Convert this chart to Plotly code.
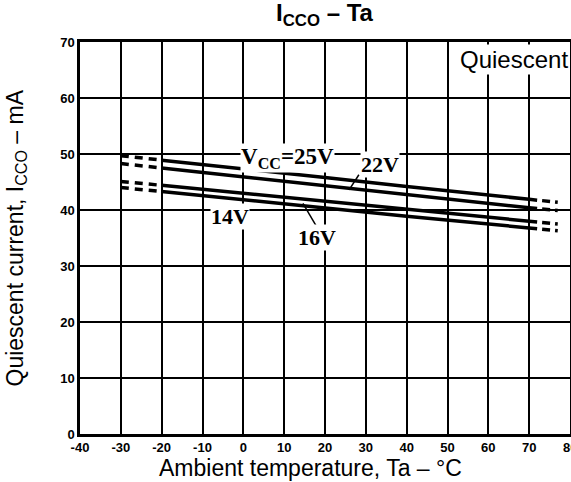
import plotly.graph_objects as go

# ---- data ----
temps_solid = [-20, 0, 20, 40, 70]
icc_25v = [48.9, 47.4, 45.8, 44.2, 41.9]
icc_22v = [47.5, 45.9, 44.3, 42.7, 40.4]
icc_16v = [44.4, 43.0, 41.6, 40.1, 38.0]
icc_14v = [43.3, 41.8, 40.4, 38.9, 36.8]

temps_left = [-30, -20]
left_25v = [49.7, 48.9]
left_22v = [48.3, 47.5]
left_16v = [45.1, 44.4]
left_14v = [44.0, 43.3]

temps_right = [70, 77]
right_25v = [41.9, 41.4]
right_22v = [40.4, 39.9]
right_16v = [38.0, 37.5]
right_14v = [36.8, 36.3]

x_ticks = [-40, -30, -20, -10, 0, 10, 20, 30, 40, 50, 60, 70, 80]
x_ticktext = ["-40", "-30", "-20", "-10", "0", "10", "20", "30", "40", "50", "60", "70", "80"]
y_ticks = [0, 10, 20, 30, 40, 50, 60, 70]
y_ticktext = ["0", "10", "20", "30", "40", "50", "60", "70"]

SANS = "Liberation Sans, Arial, sans-serif"
SERIF = "Liberation Serif, Times New Roman, serif"
TICKFONT = dict(family=SANS, size=13, color="black", weight="bold")

fig = go.Figure()
for vals in [icc_25v, icc_22v, icc_16v, icc_14v]:
    fig.add_trace(go.Scatter(x=temps_solid, y=vals, mode="lines",
                             line=dict(color="black", width=3.5), showlegend=False))
for vals in [left_25v, left_22v, left_16v, left_14v]:
    fig.add_trace(go.Scatter(x=temps_left, y=vals, mode="lines",
                             line=dict(color="black", width=3.5, dash="8px,6px"), showlegend=False))
for vals in [right_25v, right_22v, right_16v, right_14v]:
    fig.add_trace(go.Scatter(x=temps_right, y=vals, mode="lines",
                             line=dict(color="black", width=3.5, dash="8px,5px"), showlegend=False))

ann_font = dict(family=SERIF, size=22, color="black", weight="bold")
annotations = [
    dict(x=10.7, y=49.2, text="V<sub>CC</sub>=25V", showarrow=False,
         font=dict(family=SERIF, size=23, color="black", weight="bold"),
         bgcolor="white", xref="x", yref="y", borderpad=0),
    dict(x=33.5, y=48.2, text="22V", showarrow=False, font=ann_font,
         bgcolor="white", xref="x", yref="y", borderpad=0),
    dict(x=-3.3, y=38.9, text="14V", showarrow=False, font=ann_font,
         bgcolor="white", xref="x", yref="y", borderpad=0),
    dict(x=18.0, y=35.1, text="16V", showarrow=False, font=ann_font,
         bgcolor="white", xref="x", yref="y", borderpad=0),
    dict(x=0.999, y=0.995, xref="paper", yref="paper", xanchor="right", yanchor="top",
         text="Quiescent", showarrow=False, bgcolor="white", borderpad=1,
         font=dict(family=SANS, size=24, color="black")),
    dict(x=0.5, y=1.0, xref="paper", yref="paper", yanchor="bottom", yshift=10,
         text="<b>I<sub>CCO</sub> – Ta</b>", showarrow=False,
         font=dict(family=SANS, size=24, color="black")),
    dict(x=0.47, y=0, xref="paper", yref="paper", yanchor="top", yshift=-19,
         text="Ambient temperature, Ta – °C", showarrow=False,
         font=dict(family=SANS, size=23, color="black")),
    dict(x=0, y=0.5, xref="paper", yref="paper", xanchor="right", xshift=-48,
         text="Quiescent current, I<sub>CCO</sub> – mA", showarrow=False, textangle=-90,
         font=dict(family=SANS, size=23, color="black")),
    dict(x=80, y=0, xref="x", yref="y", yanchor="top", yshift=-4,
         text="80", showarrow=False, font=TICKFONT),
]

shapes = [
    dict(type="line", xref="x", yref="y", x0=28.3, y0=46.3, x1=25.9, y1=43.6,
         line=dict(color="black", width=1.5)),
    dict(type="line", xref="x", yref="y", x0=14.6, y0=41.2, x1=17.8, y1=37.2,
         line=dict(color="black", width=1.5)),
]

fig.update_layout(
    width=571, height=482,
    margin=dict(l=80, r=1, t=42, b=48, autoexpand=False),
    paper_bgcolor="white", plot_bgcolor="white",
    annotations=annotations, shapes=shapes,
    xaxis=dict(range=[-40, 80], tickvals=x_ticks, ticktext=x_ticktext,
               showgrid=True, gridcolor="black", gridwidth=1.5, automargin=False,
               showline=True, linecolor="black", linewidth=2.5, mirror=True,
               zeroline=False, ticks="", ticklen=0, tickfont=TICKFONT),
    yaxis=dict(range=[0, 70], tickvals=y_ticks, ticktext=y_ticktext,
               showgrid=True, gridcolor="black", gridwidth=1.5, automargin=False,
               showline=True, linecolor="black", linewidth=2.5, mirror=True,
               zeroline=False, ticks="", ticklen=0, tickfont=TICKFONT),
)

fig.write_html("out.html", config={"displayModeBar": False},
               post_script="document.body.style.margin='0';document.body.style.overflow='hidden';")
